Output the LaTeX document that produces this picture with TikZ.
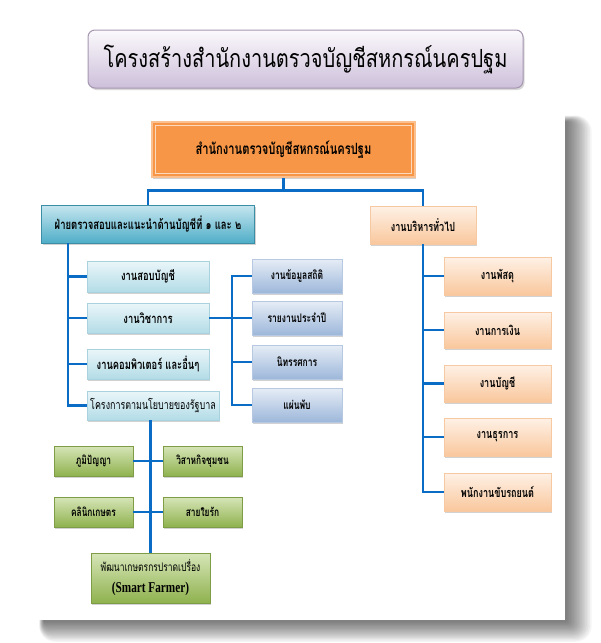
\documentclass[tikz,border=0pt]{standalone}
\usepackage{fontspec}
\newfontfamily\thaititle[Script=Thai,FakeStretch=0.8]{Loma}
\newfontfamily\thaibox[Script=Thai,FakeStretch=0.72]{Loma}
\newfontfamily\tnr[FakeStretch=0.75]{Liberation Serif}
\usetikzlibrary{shadows}
\definecolor{lineblue}{HTML}{0A6CC4}
\definecolor{orangefill}{HTML}{F79646}
\definecolor{orangeedge}{HTML}{FAC090}
\definecolor{titletop}{HTML}{FBF9FC}
\definecolor{titlebot}{HTML}{CDBFDA}
\definecolor{titleedge}{HTML}{A597B0}
\definecolor{cyantop}{HTML}{C6E6EF}
\definecolor{cyanbot}{HTML}{4FADC8}
\definecolor{cyanedge}{HTML}{3C8DA6}
\definecolor{ltcyantop}{HTML}{EAF6F9}
\definecolor{ltcyanbot}{HTML}{B3DCE7}
\definecolor{ltcyanedge}{HTML}{A9D2DE}
\definecolor{violtop}{HTML}{E6EDF6}
\definecolor{violbot}{HTML}{9DB7DA}
\definecolor{violedge}{HTML}{B6C8E2}
\definecolor{peachtop}{HTML}{FEF1E6}
\definecolor{peachbot}{HTML}{F9C79C}
\definecolor{peachedge}{HTML}{F6C9A2}
\definecolor{greentop}{HTML}{D6E5B8}
\definecolor{greenbot}{HTML}{8FB24E}
\definecolor{greenedge}{HTML}{7E9D46}
\tikzset{
  x=1pt, y=-1pt,
  conn/.style={draw=lineblue, line width=2.6pt},
  boxbase/.style={rectangle, inner sep=0pt, align=center, line width=0.8pt,
    drop shadow={shadow xshift=1.4pt, shadow yshift=-1.6pt, opacity=0.35, fill=gray}},
  topbox/.style={boxbase, fill=orangefill, draw=orangeedge, line width=1.2pt,
    minimum width=263pt, minimum height=55pt, font=\thaibox\bfseries\fontsize{15.5}{18}\selectfont},
  mainblue/.style={boxbase, draw=cyanedge, top color=cyantop, bottom color=cyanbot,
    font=\thaibox\bfseries\fontsize{13.2}{15}\selectfont},
  ltblue/.style={boxbase, draw=ltcyanedge, top color=ltcyantop, bottom color=ltcyanbot,
    font=\thaibox\bfseries\fontsize{13}{15}\selectfont},
  violbox/.style={boxbase, draw=violedge, top color=violtop, bottom color=violbot,
    minimum width=90pt, minimum height=34pt, font=\thaibox\bfseries\fontsize{11.8}{14}\selectfont},
  peachbox/.style={boxbase, draw=peachedge, top color=peachtop, bottom color=peachbot,
    font=\thaibox\bfseries\fontsize{12.6}{15}\selectfont},
  greenbox/.style={boxbase, draw=greenedge, top color=greentop, bottom color=greenbot,
    minimum width=79pt, minimum height=30pt, font=\thaibox\bfseries\fontsize{11.6}{14}\selectfont},
}
\begin{document}
\begin{tikzpicture}
\useasboundingbox (0,0) rectangle (601,643);
\fill[white] (0,0) rectangle (601,643);
% panel shadow
\foreach \i in {1,...,16}{
  \fill[black, opacity=0.04, rounded corners=\i pt]
    (44-\i*0.3,122-\i*0.4) rectangle (566+\i*1.6,621+\i*1.3);
}
\fill[white] (32,109) rectangle (565,620);
% title
\node[rectangle, rounded corners=7pt, draw=titleedge, line width=1pt,
  top color=titletop, bottom color=titlebot,
  minimum width=435pt, minimum height=58pt, inner sep=0pt,
  drop shadow={shadow xshift=1.5pt, shadow yshift=-2pt, opacity=0.3, fill=gray},
  font=\thaititle\fontsize{25}{28}\selectfont]
  (title) at (305.5,59) {โครงสร้างสำนักงานตรวจบัญชีสหกรณ์นครปฐม};
% top box
\node[topbox] (top) at (283.5,149.5) {สำนักงานตรวจบัญชีสหกรณ์นครปฐม};
\draw[orangeedge!60!white, line width=1pt]
  ([shift={(4pt,-4pt)}]top.north west) rectangle ([shift={(-4pt,4pt)}]top.south east);
% level 2
\node[mainblue, minimum width=213pt, minimum height=38pt] (lm) at (148,224)
  {ฝ่ายตรวจสอบและแนะนำด้านบัญชีที่ ๑ และ ๒};
\node[peachbox, minimum width=106pt, minimum height=38pt] (rm) at (423,225)
  {งานบริหารทั่วไป};
% left column
\node[ltblue, minimum width=122pt, minimum height=31pt] (s1) at (148,276.5) {งานสอบบัญชี};
\node[ltblue, minimum width=122pt, minimum height=30pt] (s2) at (148,318) {งานวิชาการ};
\node[ltblue, minimum width=122pt, minimum height=30pt] (s3) at (148,364) {งานคอมพิวเตอร์ และอื่นๆ};
\node[ltblue, minimum width=132pt, minimum height=29pt, font=\thaibox\fontsize{12.4}{15}\selectfont]
  (s4) at (153,405.5) {โครงการตามนโยบายของรัฐบาล};
% violet column
\node[violbox] (v1) at (297,276) {งานข้อมูลสถิติ};
\node[violbox] (v2) at (297,318) {รายงานประจำปี};
\node[violbox] (v3) at (297,362) {นิทรรศการ};
\node[violbox] (v4) at (297,405) {แผ่นพับ};
% green group
\node[greenbox] (g1) at (93.5,461) {ภูมิปัญญา};
\node[greenbox] (g2) at (202.5,461) {วิสาหกิจชุมชน};
\node[greenbox] (g3) at (93.5,512) {คลินิกเกษตร};
\node[greenbox] (g4) at (202.5,512) {สายใยรัก};
\node[greenbox, minimum width=119pt, minimum height=50pt, font=\thaibox\fontsize{11.8}{14}\selectfont]
  (fb) at (150.5,578)
  {พัฒนาเกษตรกรปราดเปรื่อง\\[7pt]{\tnr\bfseries\fontsize{15}{17}\selectfont (Smart Farmer)}};
% peach column
\node[peachbox, minimum width=107pt, minimum height=38pt] (p1) at (497.5,276) {งานพัสดุ};
\node[peachbox, minimum width=107pt, minimum height=36pt] (p2) at (497.5,330) {งานการเงิน};
\node[peachbox, minimum width=107pt, minimum height=37pt] (p3) at (497.5,383.5) {งานบัญชี};
\node[peachbox, minimum width=107pt, minimum height=38pt] (p4) at (497.5,437) {งานธุรการ};
\node[peachbox, minimum width=107pt, minimum height=38pt] (p5) at (497.5,492) {พนักงานขับรถยนต์};
% connectors
\coordinate (hj) at ([yshift=-13pt]top.south);
\draw[conn] (top.south) -- (hj) -| (lm.north);
\draw[conn] (hj) -| (rm.north);
\coordinate (lv) at (lm.south west -| 68,0);
\draw[conn] (lv) |- (s4.west);
\draw[conn] (lv) |- (s1.west);
\draw[conn] (lv) |- (s2.west);
\draw[conn] (lv) |- (s3.west);
\coordinate (vj) at (232,318);
\draw[conn] (s2.east) -- (v2.west);
\draw[conn] (vj) |- (v1.west);
\draw[conn] (vj) |- (v4.west);
\draw[conn] (vj) |- (v3.west);
\draw[conn] (fb.north |- s4.south) -- (fb.north);
\draw[conn] (g1.east) -- (g2.west);
\draw[conn] (g3.east) -- (g4.west);
\draw[conn] (rm.south) |- (p5.west);
\draw[conn] (rm.south) |- (p1.west);
\draw[conn] (rm.south) |- (p2.west);
\draw[conn] (rm.south) |- (p3.west);
\draw[conn] (rm.south) |- (p4.west);
\end{tikzpicture}
\end{document}
